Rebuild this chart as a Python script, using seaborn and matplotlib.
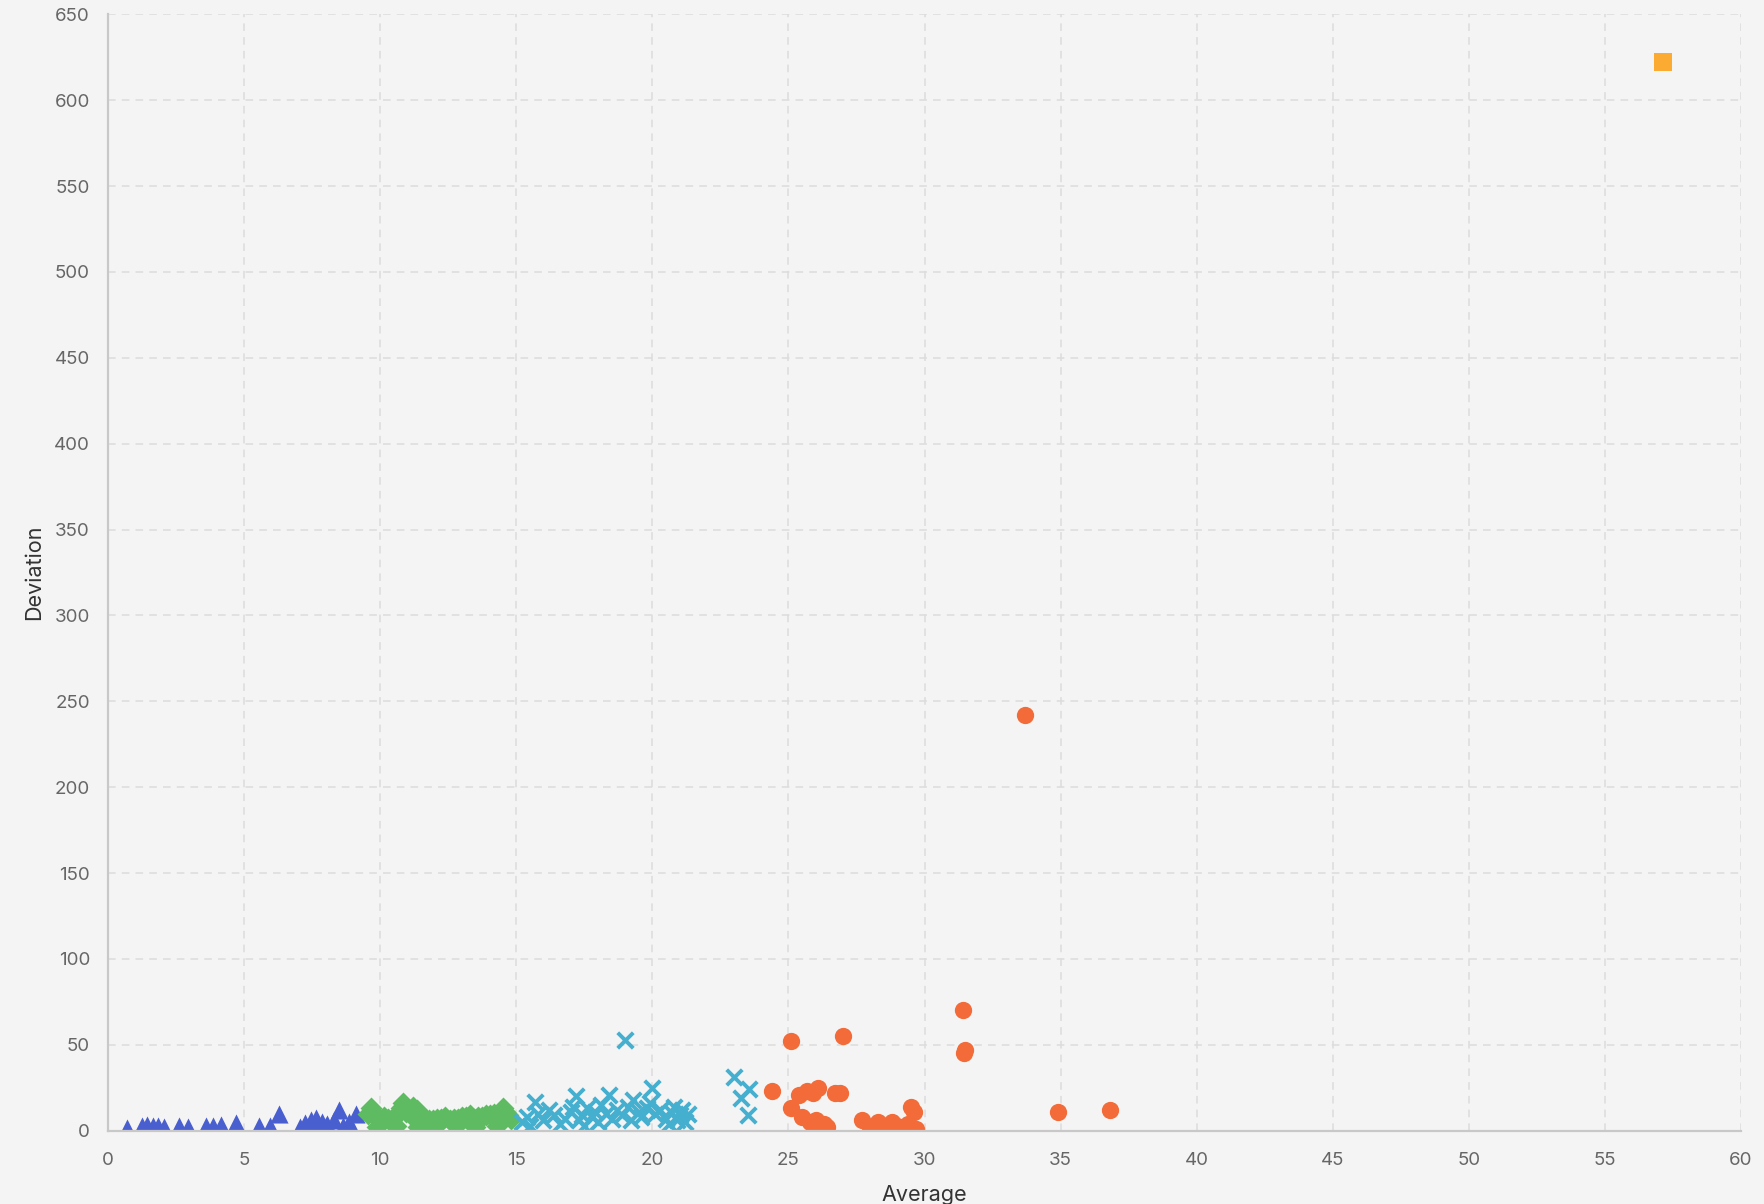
import matplotlib
matplotlib.use("Agg")
import matplotlib.pyplot as plt
import seaborn as sns
import pandas as pd
from matplotlib.ticker import MultipleLocator

# ---- data ----
blue_x = [0.7, 1.25, 1.45, 1.65, 1.85, 2.05, 2.6, 2.95, 3.6, 3.85, 4.15, 4.7, 5.55, 5.95, 6.3,
          7.05, 7.25, 7.45, 7.65, 7.85, 8.05, 8.3, 8.5, 8.65, 8.85, 9.1, 7.5, 8.0, 8.9]
blue_y = [1.5, 2.5, 3.5, 3.0, 2.5, 2.0, 2.5, 2.0, 3.0, 2.5, 3.5, 4.5, 3.0, 2.5, 10.0,
          2.0, 4.5, 6.5, 7.5, 5.0, 4.0, 6.0, 12.0, 3.0, 5.0, 10.0, 2.0, 2.5, 2.0]

green_x = [9.55, 9.65, 9.75, 9.85, 9.95, 10.05, 10.15, 10.3, 10.45, 10.6, 10.75, 10.85, 10.95,
           11.1, 11.2, 11.35, 11.5, 11.65, 11.8, 11.95, 12.1, 12.25, 12.4, 12.55, 12.7, 12.85,
           13.0, 13.15, 13.3, 13.45, 13.6, 13.75, 13.9, 14.05, 14.2, 14.35, 14.5, 14.6, 14.7,
           14.8, 9.9, 10.6, 11.4, 12.0, 12.8, 13.5, 14.3]
green_y = [10, 13, 11, 8, 7, 6, 8, 7, 6, 9, 13, 16, 11, 10, 14, 12, 8, 7, 6, 6, 7, 7, 8, 6, 7, 7,
           8, 8, 9, 7, 8, 8, 9, 9, 10, 10, 13, 11, 9, 7, 2, 3, 2, 2, 3, 2, 3]

cyan_x = [15.2, 15.4, 15.5, 15.7, 15.8, 16.0, 16.2, 16.4, 16.6, 16.8, 17.0, 17.1, 17.2, 17.3,
          17.4, 17.5, 17.6, 17.8, 17.9, 18.0, 18.1, 18.3, 18.4, 18.5, 18.7, 18.9, 19.0, 19.1,
          19.2, 19.3, 19.5, 19.6, 19.8, 19.9, 20.0, 20.1, 20.3, 20.5, 20.6, 20.7, 20.8, 20.9,
          21.0, 21.1, 21.2, 21.3, 23.0, 23.55, 23.25, 23.5]
cyan_y = [5, 8, 3, 17, 10, 6, 12, 9, 4, 7, 11, 14, 20, 6, 9, 3, 13, 8, 11, 5, 15, 10, 21, 7,
          12, 9, 53, 14, 6, 18, 11, 8, 13, 16, 25, 10, 12, 7, 4, 11, 14, 6, 9, 12, 5, 10,
          31, 24, 19, 9]

orange_x = [24.4, 25.1, 25.1, 25.4, 25.5, 25.7, 25.8, 25.9, 26.0, 26.1, 26.2, 26.3, 26.4, 26.7,
            26.9, 27.0, 27.7, 28.0, 28.3, 28.5, 28.8, 29.0, 29.2, 29.4, 29.5, 29.6, 29.7,
            31.4, 31.5, 31.45, 33.7, 34.9, 36.8]
orange_y = [23, 52, 13, 21, 8, 23, 5, 22, 6, 25, 3, 4, 2, 22, 22, 55, 6, 2, 5, 3, 5, 3, 2, 4,
            14, 11, 1, 70, 47, 45, 242, 11, 12]

yellow_x = [57.15]
yellow_y = [622]

# ---- style ----
BG = "#f4f4f4"
sns.set_theme(style="white")
plt.rcParams["font.family"] = ["Inter", "DejaVu Sans"]

fig = plt.figure(figsize=(17.64, 12.04), dpi=100, facecolor=BG)
ax = fig.add_axes([108 / 1764, 1 - 1130.7 / 1204, 1633 / 1764, 1116.4 / 1204])
ax.set_facecolor(BG)

sns.scatterplot(x=blue_x, y=blue_y, ax=ax, marker="^", s=170, color="#4a5fcf", linewidth=0)
sns.scatterplot(x=green_x, y=green_y, ax=ax, marker="D", s=125, color="#5fbb62", linewidth=0)
sns.scatterplot(x=cyan_x, y=cyan_y, ax=ax, marker="x", s=125, color="#45afd0", linewidth=2.8)
sns.scatterplot(x=orange_x, y=orange_y, ax=ax, marker="o", s=155, color="#f26b38", linewidth=0)
sns.scatterplot(x=yellow_x, y=yellow_y, ax=ax, marker="s", s=150, color="#fbab32", linewidth=0)

ax.set_xlim(0, 60)
ax.set_ylim(0, 650)
ax.xaxis.set_major_locator(MultipleLocator(5))
ax.xaxis.set_minor_locator(MultipleLocator(1))
ax.yaxis.set_major_locator(MultipleLocator(50))
ax.yaxis.set_minor_locator(MultipleLocator(10))

ax.grid(True, which="major", linestyle=(0, (5, 4)), color="#dcdcdc", linewidth=1.1)
ax.set_axisbelow(True)

for s in ["top", "right"]:
    ax.spines[s].set_visible(False)
for s in ["left", "bottom"]:
    ax.spines[s].set_color("#c8c8c8")
    ax.spines[s].set_linewidth(1.6)

ax.tick_params(axis="both", which="major", direction="out", length=9.5, width=1.3,
               color="#c8c8c8", labelsize=13.5, labelcolor="#666666")
ax.tick_params(axis="both", which="minor", direction="out", length=5.5, width=1.2,
               color="#c8c8c8")
ax.tick_params(axis="y", which="major", pad=3.5)
ax.tick_params(axis="x", which="major", pad=6)

ax.set_xlabel("Average", fontsize=15.5, color="#333333")
ax.set_ylabel("Deviation", fontsize=15.5, color="#333333")
ax.xaxis.set_label_coords(0.5, -(1195 - 1130.7) / 1116.4)
ax.xaxis.label.set_va("center")
ax.yaxis.set_label_coords((34 - 108) / 1633, 0.5)
ax.yaxis.label.set_va("center")

fig.savefig("out.png", dpi=100, facecolor=BG)
